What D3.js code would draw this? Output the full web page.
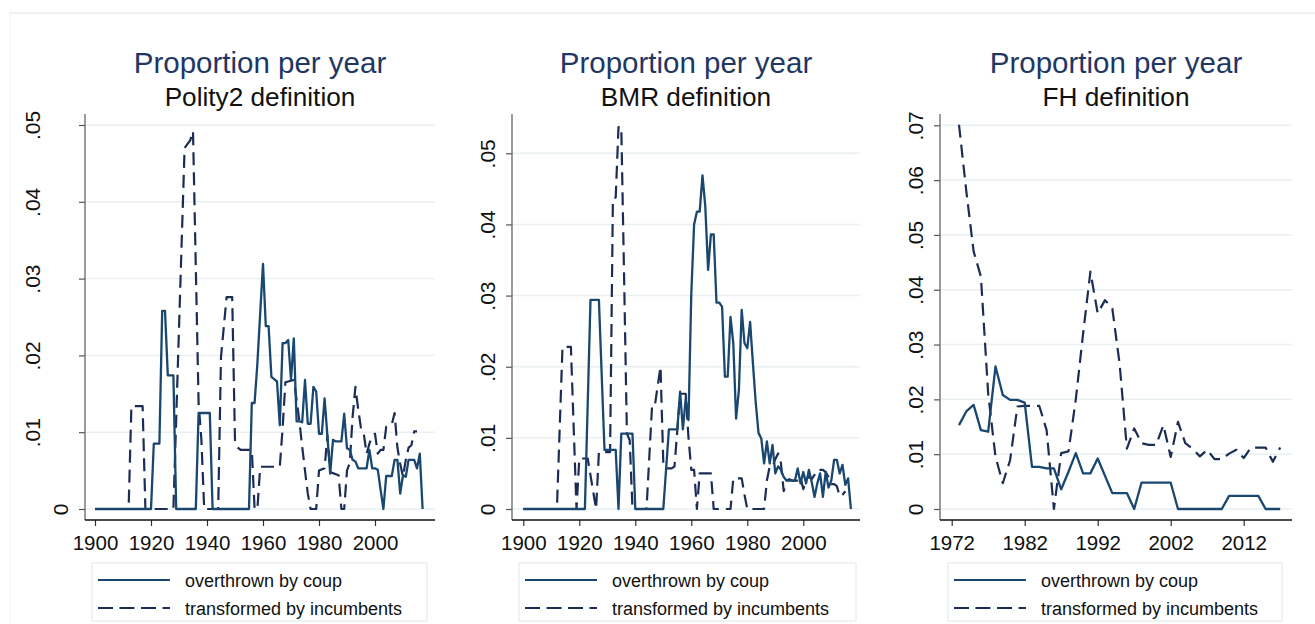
<!DOCTYPE html>
<html>
<head>
<meta charset="utf-8">
<script src="https://cdn.jsdelivr.net/npm/d3@7"></script>
<style>
  html, body { margin: 0; padding: 0; background: #fff; }
  svg { display: block; font-family: "Liberation Sans", Arial, sans-serif; }
</style>
</head>
<body>
<svg id="chart" width="1315" height="624"></svg>
<script>
// ---------------- DATA ----------------
const mainTitle = "Proportion per year";
const panelSubtitles = ["Polity2 definition", "BMR definition", "FH definition"];
const seriesNames = ["overthrown by coup", "transformed by incumbents"];

const xTicksLong = [1900, 1920, 1940, 1960, 1980, 2000];
const xTicksFH = [1972, 1982, 1992, 2002, 2012];
const yTicksPolity = [0, 0.01, 0.02, 0.03, 0.04, 0.05];
const yTicksBMR = [0, 0.01, 0.02, 0.03, 0.04, 0.05];
const yTicksFH = [0, 0.01, 0.02, 0.03, 0.04, 0.05, 0.06, 0.07];

// [year, proportion]
const polityCoup = [[1900,0],[1920,0],[1921,.0085],[1923,.0085],[1924,.0258],[1925,.0258],[1926,.0174],[1928,.0174],[1929,0],[1936,0],[1937,.0125],[1941,.0125],[1942,0],[1955,0],[1956,.0138],[1957,.0138],[1958,.019],[1959,.0255],[1960,.0319],[1961,.0238],[1962,.0238],[1963,.0172],[1964,.0169],[1965,.0166],[1966,.0109],[1967,.0216],[1968,.0216],[1969,.022],[1970,.0168],[1971,.0222],[1972,.0114],[1973,.0114],[1974,.0113],[1975,.0168],[1976,.0111],[1977,.0111],[1978,.0159],[1979,.0153],[1980,.0098],[1981,.0098],[1982,.0144],[1983,.0095],[1984,.0046],[1985,.009],[1986,.0088],[1987,.0088],[1988,.0088],[1989,.0124],[1990,.0079],[1991,.0077],[1992,.0064],[1993,.0062],[1994,.0053],[1995,.0053],[1996,.0053],[1997,.0053],[1998,.0077],[1999,.0053],[2000,.0053],[2001,.0051],[2002,.0025],[2003,0],[2004,.0043],[2005,.0043],[2006,.0043],[2007,.0064],[2008,.0064],[2009,.002],[2010,.0044],[2011,.0042],[2012,.0064],[2013,.0064],[2014,.0064],[2015,.0053],[2016,.0072],[2017,0]];

const polityIncumbent = [[1900,0],[1912,0],[1913,.0134],[1917,.0134],[1918,0],[1928,0],[1932,.047],[1933,.0475],[1934,.048],[1935,.0492],[1937,.0138],[1938,.009],[1939,0],[1944,0],[1945,.0198],[1947,.0276],[1949,.0276],[1950,.0088],[1951,.008],[1952,.0077],[1956,.0077],[1957,0],[1958,0],[1959,.0055],[1966,.0055],[1967,.0105],[1968,.0165],[1971,.0168],[1972,.0142],[1973,.0114],[1974,.0081],[1975,.005],[1976,.002],[1977,0],[1979,0],[1980,.005],[1982,.0053],[1983,.0096],[1984,.0048],[1987,.0044],[1988,0],[1989,0],[1990,.005],[1991,.006],[1992,.012],[1993,.0159],[1994,.013],[1995,.0105],[1996,.0098],[1997,.0072],[1998,.0085],[1999,.0095],[2000,.0098],[2001,.0072],[2002,.0077],[2003,.0077],[2004,.0107],[2005,.0109],[2006,.011],[2007,.0125],[2008,.008],[2009,.0059],[2010,.0042],[2011,.0064],[2012,.008],[2013,.0083],[2014,.0101],[2015,.0101]];

const bmrCoup = [[1900,0],[1922,0],[1924,.0294],[1927,.0294],[1929,.0083],[1933,.0083],[1934,0],[1935,.0106],[1939,.0106],[1940,0],[1950,0],[1952,.0112],[1955,.0112],[1956,.0165],[1957,.0112],[1958,.0155],[1959,.0125],[1960,.0303],[1961,.040],[1962,.0418],[1963,.0418],[1964,.0469],[1965,.0425],[1966,.0336],[1967,.0386],[1968,.0386],[1969,.029],[1970,.029],[1971,.0284],[1972,.0186],[1973,.0186],[1974,.027],[1975,.0233],[1976,.0127],[1977,.0167],[1978,.028],[1979,.0233],[1980,.0226],[1981,.0263],[1982,.0205],[1983,.015],[1984,.0107],[1985,.0099],[1986,.0064],[1987,.0095],[1988,.0064],[1989,.009],[1990,.005],[1991,.006],[1992,.0055],[1993,.0045],[1994,.004],[1997,.004],[1998,.0057],[1999,.0036],[2000,.0052],[2001,.0036],[2002,.0055],[2003,.0038],[2004,.0017],[2005,.0036],[2006,.005],[2007,.0017],[2008,.0052],[2009,.003],[2010,.004],[2011,.0069],[2012,.0069],[2013,.005],[2014,.0062],[2015,.0034],[2016,.0043],[2017,0]];

const bmrIncumbent = [[1900,0],[1912,0],[1914,.0228],[1917,.0228],[1919,0],[1920,.0071],[1923,.0071],[1926,0],[1927,.008],[1931,.008],[1932,.0436],[1933,.0438],[1934,.0537],[1935,.0537],[1936,.0326],[1937,.0106],[1938,.0097],[1939,0],[1944,0],[1946,.0146],[1947,.0146],[1949,.02],[1950,.0065],[1951,.0057],[1953,.0057],[1954,.006],[1955,.011],[1956,.0162],[1958,.0162],[1959,.01],[1960,.0055],[1961,.0055],[1962,0],[1963,.005],[1967,.005],[1968,0],[1974,0],[1975,.0043],[1978,.0043],[1979,.002],[1980,0],[1986,0],[1987,.004],[1988,.006],[1989,.006],[1990,.007],[1991,.0078],[1992,.0065],[1993,.0025],[1994,.004],[1995,.0042],[1996,.004],[1998,.004],[1999,.0045],[2000,.0028],[2001,.0042],[2002,.0045],[2003,.0042],[2004,.0048],[2005,.0055],[2007,.0055],[2008,.0052],[2009,.0045],[2010,.0035],[2011,.0035],[2012,.0032],[2013,.0018],[2014,.002],[2015,.0025]];

const fhCoup = [[1973,.0153],[1974,.0178],[1975,.019],[1976,.0144],[1977,.0141],[1978,.026],[1979,.0208],[1980,.0199],[1981,.0199],[1982,.0194],[1983,.0077],[1984,.0077],[1985,.0074],[1986,.0074],[1987,.0036],[1988,.0068],[1989,.0102],[1990,.0065],[1991,.0065],[1992,.0092],[1994,.0029],[1996,.0029],[1997,0],[1998,.0048],[2002,.0048],[2003,0],[2009,0],[2010,.0024],[2014,.0024],[2015,0],[2017,0]];

const fhIncumbent = [[1973,.0701],[1974,.058],[1975,.047],[1976,.0424],[1977,.021],[1978,.0095],[1979,.0047],[1980,.0089],[1981,.0187],[1982,.0188],[1984,.0188],[1985,.0144],[1986,0],[1987,.0102],[1988,.0105],[1989,.02],[1990,.032],[1991,.0433],[1992,.0357],[1993,.0381],[1994,.0366],[1995,.0265],[1996,.011],[1997,.0147],[1998,.012],[1999,.0117],[2000,.0117],[2001,.0153],[2002,.0095],[2003,.0159],[2004,.012],[2005,.011],[2006,.0096],[2007,.0108],[2008,.0091],[2009,.0091],[2010,.0101],[2011,.0108],[2012,.0093],[2013,.0112],[2014,.0112],[2015,.0112],[2016,.0086],[2017,.0112]];

// ---------------- LAYOUT / STYLE ----------------
const COL_SOLID = "#1a476f";
const COL_DASH = "#1c2d55";
const COL_TITLE = "#1f3863";
const COL_GRID = "#e8f0f2";
const DASH = "13,7";

const panels = [
  { sub: panelSubtitles[0], coup: polityCoup, inc: polityIncumbent, xTicks: xTicksLong, yTicks: yTicksPolity,
    left: 85, right: 435, xDom: [1900, 2000], xRng: [95, 375], yDom: [0, 0.05], yRng: [509, 125],
    labOff: 45, zeroOff: 17, legend: { x: 92, w: 335 } },
  { sub: panelSubtitles[1], coup: bmrCoup, inc: bmrIncumbent, xTicks: xTicksLong, yTicks: yTicksBMR,
    left: 512, right: 860, xDom: [1900, 2000], xRng: [523.3, 803.3], yDom: [0, 0.05], yRng: [509, 153.3],
    labOff: 17, zeroOff: 17, legend: { x: 519, w: 337 } },
  { sub: panelSubtitles[2], coup: fhCoup, inc: fhIncumbent, xTicks: xTicksFH, yTicks: yTicksFH,
    left: 940, right: 1292, xDom: [1972, 2012], xRng: [951.7, 1243.7], yDom: [0, 0.07], yRng: [509, 125.3],
    labOff: 17, zeroOff: 17, legend: { x: 948, w: 334 } }
];

const PLOT_TOP = 114, XAXIS_Y = 520;
const svg = d3.select("#chart");

// outer graph-region border (faint)
svg.append("line").attr("x1", 9).attr("x2", 1315).attr("y1", 13).attr("y2", 13)
  .attr("stroke", "#e9eff0").attr("stroke-width", 1.5);
svg.append("line").attr("x1", 10).attr("x2", 10).attr("y1", 13).attr("y2", 624)
  .attr("stroke", "#f1f5f5").attr("stroke-width", 1);

const yFmt = d => d === 0 ? "0" : d3.format(".2f")(d).replace(/^0/, "");

panels.forEach(p => {
  const x = d3.scaleLinear().domain(p.xDom).range(p.xRng);
  const y = d3.scaleLinear().domain(p.yDom).range(p.yRng);
  const g = svg.append("g");
  const cx = (p.left + p.right) / 2;

  // titles
  g.append("text").attr("x", cx).attr("y", 73).attr("text-anchor", "middle")
    .attr("font-size", 29.5).attr("fill", COL_TITLE).text(mainTitle);
  g.append("text").attr("x", cx).attr("y", 106).attr("text-anchor", "middle")
    .attr("font-size", 26.2).attr("fill", "#111").text(p.sub);

  // gridlines
  g.append("g").selectAll("line").data(p.yTicks).join("line")
    .attr("x1", p.left).attr("x2", p.right)
    .attr("y1", d => y(d)).attr("y2", d => y(d))
    .attr("stroke", COL_GRID).attr("stroke-width", 1.5);

  // y axis
  const ya = g.append("g").attr("transform", `translate(${p.left},0)`)
    .call(d3.axisLeft(y).tickValues(p.yTicks).tickFormat(yFmt).tickSize(6).tickSizeOuter(0));
  ya.select(".domain").remove();
  ya.selectAll(".tick line").attr("stroke", "#555").attr("stroke-width", 1.2);
  ya.selectAll(".tick text")
    .attr("transform", "rotate(-90)")
    .attr("x", 0).attr("dy", 0)
    .attr("y", d => -(d === 0 ? p.zeroOff : p.labOff))
    .attr("text-anchor", "middle")
    .attr("font-size", 21).attr("fill", "#111")
    .attr("font-family", "Liberation Sans, Arial, sans-serif");
  g.append("line").attr("x1", p.left).attr("x2", p.left).attr("y1", PLOT_TOP).attr("y2", XAXIS_Y)
    .attr("stroke", "#666").attr("stroke-width", 1.3);

  // x axis
  const xa = g.append("g").attr("transform", `translate(0,${XAXIS_Y})`)
    .call(d3.axisBottom(x).tickValues(p.xTicks).tickFormat(d3.format("d")).tickSize(6).tickPadding(9).tickSizeOuter(0));
  xa.select(".domain").remove();
  xa.selectAll(".tick line").attr("stroke", "#333").attr("stroke-width", 1.2);
  xa.selectAll(".tick text").attr("font-size", 20.5).attr("fill", "#111")
    .attr("font-family", "Liberation Sans, Arial, sans-serif");
  g.append("line").attr("x1", p.left).attr("x2", p.right).attr("y1", XAXIS_Y).attr("y2", XAXIS_Y)
    .attr("stroke", "#111").attr("stroke-width", 1.3);

  // series
  const line = d3.line().x(d => x(d[0])).y(d => y(d[1]));
  g.append("path").datum(p.inc).attr("d", line).attr("fill", "none")
    .attr("stroke", COL_DASH).attr("stroke-width", 2.2).attr("stroke-dasharray", DASH)
    .attr("stroke-linejoin", "round");
  g.append("path").datum(p.coup).attr("d", line).attr("fill", "none")
    .attr("stroke", COL_SOLID).attr("stroke-width", 2.3).attr("stroke-linejoin", "round");

  // legend
  const L = p.legend;
  const lg = g.append("g");
  lg.append("rect").attr("x", L.x).attr("y", 563).attr("width", L.w).attr("height", 58)
    .attr("fill", "#fff").attr("stroke", "#e3ebed").attr("stroke-width", 1.2);
  const rows = [
    { name: seriesNames[0], col: COL_SOLID, dash: null, y: 580 },
    { name: seriesNames[1], col: COL_DASH, dash: DASH, y: 608 }
  ];
  rows.forEach(r => {
    lg.append("line").attr("x1", L.x + 6).attr("x2", L.x + 78).attr("y1", r.y).attr("y2", r.y)
      .attr("stroke", r.col).attr("stroke-width", 2.2)
      .attr("stroke-dasharray", r.dash ? "15,6.5" : null);
    lg.append("text").attr("x", L.x + 93).attr("y", r.y + 7).attr("font-size", 18).attr("fill", "#111")
      .text(r.name);
  });
});
</script>
</body>
</html>
